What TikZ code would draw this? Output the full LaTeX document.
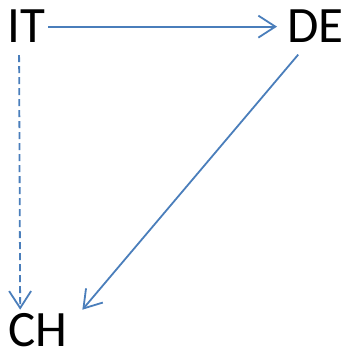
\documentclass[tikz,border=0pt]{standalone}
\usepackage{fontspec}
\setmainfont{Carlito}
\usetikzlibrary{arrows.meta}
\definecolor{linkblue}{HTML}{4A7EBB}

\begin{document}
\begin{tikzpicture}[
    x=1pt, y=-1pt,
    country/.style={inner sep=3pt, anchor=base west, font=\fontsize{51}{61}\selectfont},
    link/.style={draw=linkblue, line width=1.8pt, -{Straight Barb[length=17pt, width=22pt, line width=1.8pt]}},
    maybe/.style={link, dash pattern=on 7pt off 4pt}
]
\useasboundingbox (0,0) rectangle (346,352);
\node[country] (IT) at (4,43) {IT};
\node[country] (DE) at (284,43) {DE};
\node[country] (CH) at (5,346) {CH};
\draw[link, shorten >=7pt] (IT) -- (DE);
\draw[maybe, shorten <=9pt] ([xshift=-7pt]IT.south) -- ([xshift=-17.5pt]CH.north);
\draw[link, shorten <=11pt] ([xshift=-10pt]DE.south) -- ([xshift=12pt]CH.north east);
\end{tikzpicture}
\end{document}
